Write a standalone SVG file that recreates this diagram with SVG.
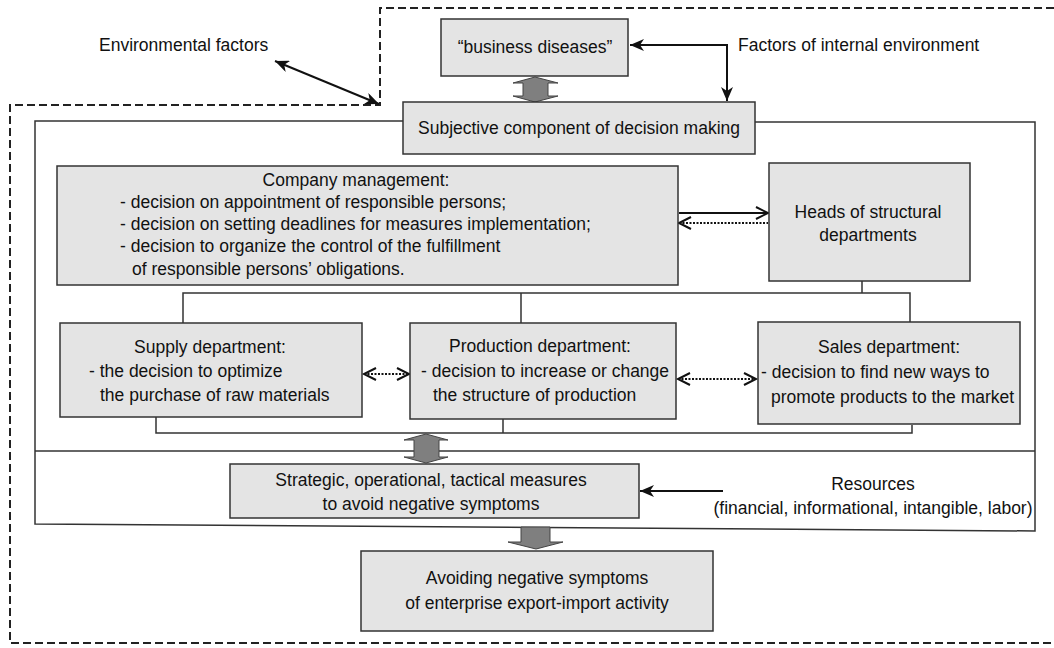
<svg xmlns="http://www.w3.org/2000/svg" width="1054" height="648" viewBox="0 0 1054 648">
<style>
.box{fill:#e4e4e4;stroke:#333;stroke-width:1.5}
.t{font-family:"Liberation Sans",Arial,sans-serif;font-size:17.5px;fill:#111}
.c{text-anchor:middle}
.ln{fill:none;stroke:#333;stroke-width:1.5}
.dash{fill:none;stroke:#222;stroke-width:2;stroke-dasharray:8,4}
.arr{fill:none;stroke:#111;stroke-width:2}
.dot{fill:none;stroke:#111;stroke-width:2;stroke-dasharray:2,1.5}
.blk{fill:#7f7f7f;stroke:#444;stroke-width:1}
</style>
<defs>
<marker id="fa" markerUnits="userSpaceOnUse" markerWidth="16" markerHeight="12" refX="14" refY="6" orient="auto-start-reverse">
<path d="M0,0 L14,6 L0,12 L4,6 Z" fill="#111"/>
</marker>
<marker id="va" markerUnits="userSpaceOnUse" markerWidth="16" markerHeight="14" refX="13" refY="7" orient="auto-start-reverse">
<path d="M1,1 L13,7 L1,13" fill="none" stroke="#111" stroke-width="2"/>
</marker>
</defs>

<g id="boundaries">
<path class="dash" d="M1054,8 H380 V105 H10 V643 H1054"/>
<path class="ln" d="M403,121 H35 V524 L1035,531 V122 H755"/>
<path class="ln" d="M35,451 H1035"/>
</g>

<g id="connectors">
<path class="arr" d="M275,61 L379,104" marker-start="url(#fa)" marker-end="url(#fa)"/>
<path class="arr" d="M630,45 H727 V101" marker-start="url(#fa)" marker-end="url(#fa)"/>
<path class="arr" d="M679,213 H768" marker-end="url(#va)"/>
<path class="dot" d="M679,223 H768" marker-start="url(#va)"/>
<path class="ln" d="M183,323 V293 H910 V322 M521,293 V323 M862,281 V293"/>
<path class="ln" d="M156,417 V433 H912 V425 M503,419 V433"/>
<path class="dot" d="M364,374 H409" marker-start="url(#va)" marker-end="url(#va)"/>
<path class="dot" d="M678,379 H756" marker-start="url(#va)" marker-end="url(#va)"/>
<path class="arr" d="M723,491 H640" marker-end="url(#fa)"/>
<polygon class="blk" points="535,77 558,83 548,83 548,96 558,96 535,102 513,96 523,96 523,83 513,83"/>
<polygon class="blk" points="426,434 448,440 439,440 439,457 448,457 426,463 404,457 414,457 414,440 404,440"/>
<polygon class="blk" points="521,527 550,527 550,542 563,542 536,549 508,542 521,542"/>
</g>

<g id="env-label"><text class="t" x="99" y="51">Environmental factors</text></g>
<g id="internal-label"><text class="t" x="738" y="51">Factors of internal environment</text></g>

<g id="business-diseases">
<rect class="box" x="441" y="19" width="187" height="57"/>
<text class="t c" x="535" y="53">“business diseases”</text>
</g>

<g id="subjective">
<rect class="box" x="403" y="102" width="352" height="52"/>
<text class="t c" x="579" y="134">Subjective component of decision making</text>
</g>

<g id="company-management">
<rect class="box" x="57" y="166" width="621" height="119"/>
<text class="t c" x="356" y="186">Company management:</text>
<text class="t" x="120" y="208">- decision on appointment of responsible persons;</text>
<text class="t" x="120" y="230">- decision on setting deadlines for measures implementation;</text>
<text class="t" x="120" y="252">- decision to organize the control of the fulfillment</text>
<text class="t" x="132" y="275">of responsible persons’ obligations.</text>
</g>

<g id="heads">
<rect class="box" x="769" y="163" width="201" height="118"/>
<text class="t c" x="868" y="218">Heads of structural</text>
<text class="t c" x="868" y="241">departments</text>
</g>

<g id="supply">
<rect class="box" x="60" y="323" width="302" height="94"/>
<text class="t c" x="210" y="353">Supply department:</text>
<text class="t" x="89" y="377">- the decision to optimize</text>
<text class="t" x="100" y="401">the purchase of raw materials</text>
</g>

<g id="production">
<rect class="box" x="410" y="323" width="266" height="96"/>
<text class="t c" x="540" y="352">Production department:</text>
<text class="t" x="421" y="377">- decision to increase or change</text>
<text class="t" x="433" y="401">the structure of production</text>
</g>

<g id="sales">
<rect class="box" x="758" y="322" width="262" height="102"/>
<text class="t c" x="889" y="353">Sales department:</text>
<text class="t" x="761" y="378">- decision to find new ways to</text>
<text class="t" x="771" y="403">promote products to the market</text>
</g>

<g id="measures">
<rect class="box" x="230" y="464" width="409" height="54"/>
<text class="t c" x="431" y="486">Strategic, operational, tactical measures</text>
<text class="t c" x="431" y="510">to avoid negative symptoms</text>
</g>

<g id="resources">
<text class="t c" x="873" y="490">Resources</text>
<text class="t c" x="873" y="514">(financial, informational, intangible, labor)</text>
</g>

<g id="avoiding">
<rect class="box" x="361" y="551" width="352" height="80"/>
<text class="t c" x="537" y="584">Avoiding negative symptoms</text>
<text class="t c" x="537" y="609">of enterprise export-import activity</text>
</g>
</svg>
